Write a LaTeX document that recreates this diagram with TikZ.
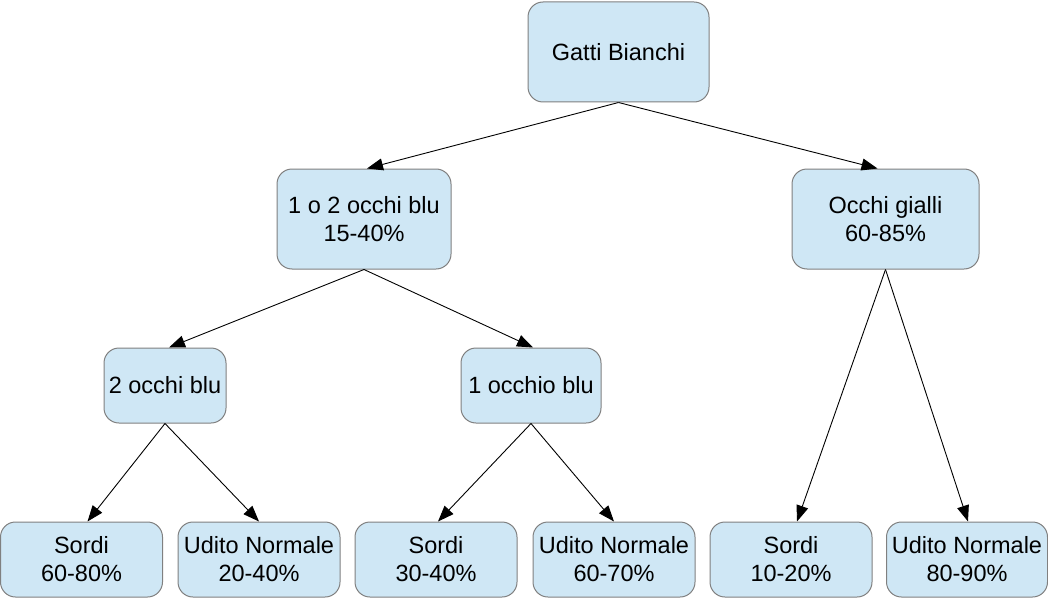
\documentclass[tikz,border=0pt]{standalone}
\usepackage{fontspec}
\setmainfont{Liberation Sans}
\usetikzlibrary{arrows.meta,calc}
\definecolor{boxfill}{RGB}{207,231,245}
\definecolor{boxline}{RGB}{128,128,128}
\tikzset{
  box/.style={draw=boxline, line width=1pt, fill=boxfill, rounded corners=15pt,
    inner sep=0pt, align=center, font=\fontsize{23.5}{28}\selectfont},
  conn/.style={draw=black, line width=0.9pt, -{Triangle[length=16pt,width=12pt]}}
}
\begin{document}
\begin{tikzpicture}[x=1pt,y=-1pt]
\useasboundingbox (0,0) rectangle (1048,599);
\node[box, minimum width=181pt, minimum height=100pt] (g) at (618.5,52) {Gatti Bianchi};
\node[box, minimum width=174pt, minimum height=100pt] (b12) at (364,219) {1 o 2 occhi blu\\15-40\%};
\node[box, minimum width=187pt, minimum height=100pt] (gi) at (885.5,219) {Occhi gialli\\60-85\%};
\node[box, minimum width=122pt, minimum height=75pt] (b2) at (165,385.5) {2 occhi blu};
\node[box, minimum width=140pt, minimum height=75pt] (b1) at (531,385.5) {1 occhio blu};
\node[box, minimum width=162pt, minimum height=75pt] (s1) at (81.5,559.5) {Sordi\\60-80\%};
\node[box, minimum width=162pt, minimum height=75pt] (u1) at (259,559.5) {Udito Normale\\20-40\%};
\node[box, minimum width=162pt, minimum height=75pt] (s2) at (436,559.5) {Sordi\\30-40\%};
\node[box, minimum width=162pt, minimum height=75pt] (u2) at (614,559.5) {Udito Normale\\60-70\%};
\node[box, minimum width=162pt, minimum height=75pt] (s3) at (791,559.5) {Sordi\\10-20\%};
\node[box, minimum width=161pt, minimum height=75pt] (u3) at (967,559.5) {Udito Normale\\80-90\%};
\draw[conn] (g.south) -- ($(b12.north)+(3,0)$);
\draw[conn] (g.south) -- ($(gi.north)+(-8,0)$);
\draw[conn] (b12.south) -- ($(b2.north)+(4,0)$);
\draw[conn] (b12.south) -- ($(b1.north)+(2,0)$);
\draw[conn] (b2.south) -- ($(s1.north)+(6,0)$);
\draw[conn] (b2.south) -- (u1.north);
\draw[conn] (b1.south) -- ($(s2.north)+(2,0)$);
\draw[conn] (b1.south) -- (u2.north);
\draw[conn] (gi.south) -- ($(s3.north)+(6,0)$);
\draw[conn] (gi.south) -- ($(u3.north)+(1,0)$);
\end{tikzpicture}
\end{document}
